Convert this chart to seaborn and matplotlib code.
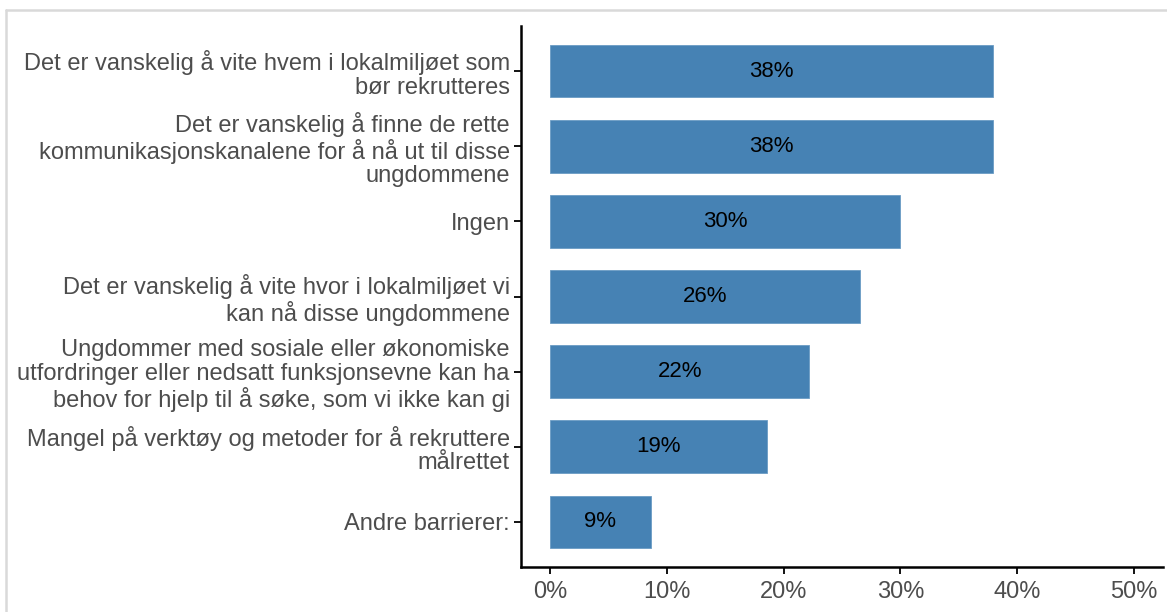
import pandas as pd
import matplotlib
matplotlib.use("Agg")
import matplotlib.pyplot as plt
from matplotlib.lines import Line2D
import seaborn as sns

barrierer = [
    "Det er vanskelig å vite hvem i lokalmiljøet som\nbør rekrutteres",
    "Det er vanskelig å finne de rette\nkommunikasjonskanalene for å nå ut til disse\nungdommene",
    "Ingen",
    "Det er vanskelig å vite hvor i lokalmiljøet vi\nkan nå disse ungdommene",
    "Ungdommer med sosiale eller økonomiske\nutfordringer eller nedsatt funksjonsevne kan ha\nbehov for hjelp til å søke, som vi ikke kan gi",
    "Mangel på verktøy og metoder for å rekruttere\nmålrettet",
    "Andre barrierer:",
]
andel = [37.9, 37.9, 30.0, 26.5, 22.2, 18.6, 8.6]
x_ticks = [0, 10, 20, 30, 40, 50]

df = pd.DataFrame({"barriere": barrierer, "andel": andel})

sns.set_style("white")
plt.rcParams["font.family"] = ["Liberation Sans", "DejaVu Sans"]

fig = plt.figure(figsize=(11.67, 6.12), dpi=100)
ax = fig.add_axes([0.4464, 0.0735, 0.5502, 0.884])

sns.barplot(data=df, y="barriere", x="andel", orient="h", color="#4682B4",
            saturation=1, width=0.7, edgecolor="#6b9cc4", linewidth=0.6, ax=ax)

for i, v in enumerate(andel):
    ax.text(v / 2, i, f"{round(v)}%", ha="center", va="center",
            fontsize=16, color="black")

ax.set_xlim(-2.5, 52.5)
ax.set_ylim(6.6, -0.6)
ax.set_xticks(x_ticks)
ax.set_xticklabels([f"{t}%" for t in x_ticks])
ax.set_xlabel("")
ax.set_ylabel("")

for side in ["top", "right"]:
    ax.spines[side].set_visible(False)
for side in ["left", "bottom"]:
    ax.spines[side].set_color("black")
    ax.spines[side].set_linewidth(1.8)

ax.tick_params(axis="both", which="both", length=5, width=1.3, color="black",
               labelcolor="#4d4d4d", labelsize=17, pad=3)
ax.tick_params(axis="y", left=True)
ax.tick_params(axis="x", bottom=True, pad=5)
for lab in ax.get_yticklabels():
    lab.set_linespacing(1.1)
    lab.set_horizontalalignment("right")
    lab.set_multialignment("right")

# light grey frame at top and left
fig.add_artist(Line2D([6 / 1167, 1.0], [1 - 10 / 612, 1 - 10 / 612],
                      transform=fig.transFigure, color="#d9d9d9", linewidth=1.8))
fig.add_artist(Line2D([6 / 1167, 6 / 1167], [0, 1 - 10 / 612],
                      transform=fig.transFigure, color="#d9d9d9", linewidth=1.8))

fig.savefig("out.png", dpi=100)
